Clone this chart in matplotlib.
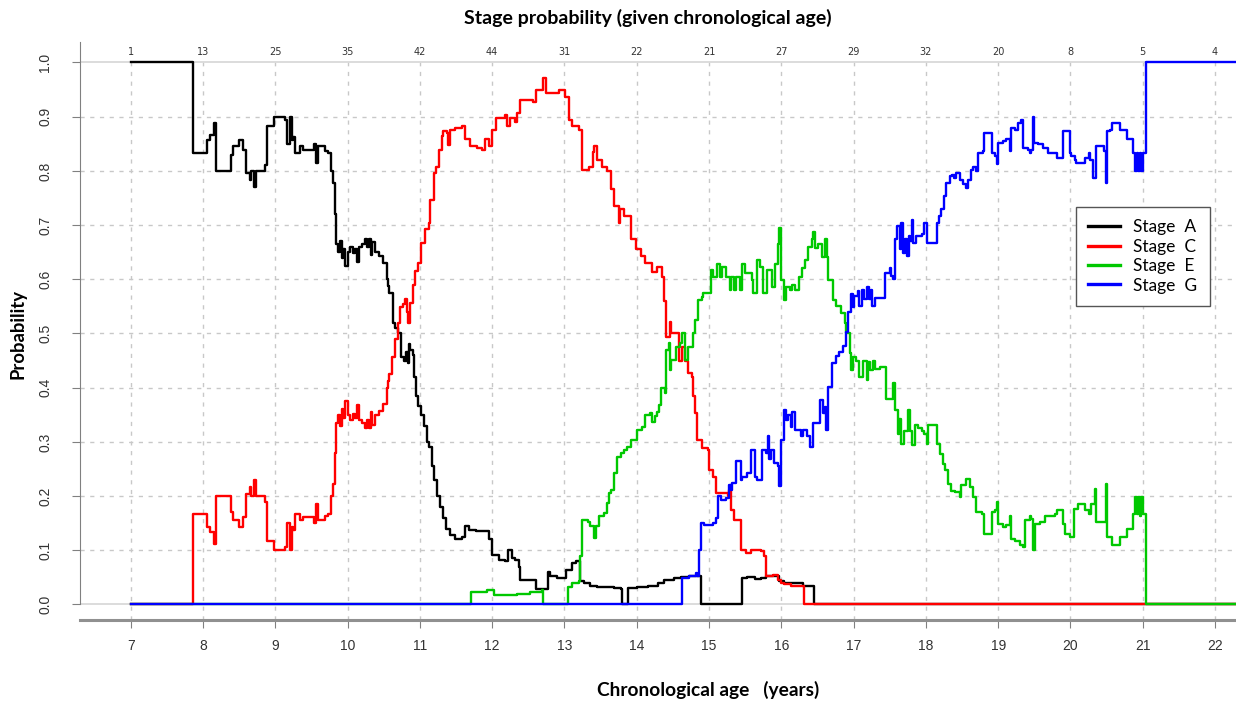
import matplotlib
matplotlib.use('Agg')
import matplotlib.pyplot as plt
from matplotlib.lines import Line2D

# stage probability step curves
a_x = [7.00, 7.866, 8.06, 8.10, 8.15, 8.18, 8.39, 8.42, 8.50, 8.56, 8.60, 8.65, 8.67, 8.70, 8.74,
       8.86, 8.88, 8.98, 9.13, 9.16, 9.20, 9.23, 9.25, 9.28, 9.34, 9.39, 9.53, 9.57, 9.59, 9.69,
       9.73, 9.77, 9.80, 9.82, 9.84, 9.87, 9.89, 9.92, 9.94, 9.97, 10.00, 10.04, 10.07, 10.10,
       10.13, 10.16, 10.20, 10.24, 10.27, 10.29, 10.32, 10.34, 10.38, 10.44, 10.49, 10.54, 10.56,
       10.58, 10.63, 10.66, 10.70, 10.74, 10.78, 10.81, 10.83, 10.85, 10.87, 10.90, 10.92, 10.94,
       10.98, 11.01, 11.06, 11.10, 11.13, 11.17, 11.20, 11.24, 11.28, 11.32, 11.36, 11.42, 11.48,
       11.58, 11.63, 11.68, 11.77, 11.95, 12.00, 12.09, 12.18, 12.22, 12.27, 12.32, 12.37, 12.39,
       12.60, 12.77, 12.80, 12.90, 13.02, 13.11, 13.16, 13.21, 13.27, 13.36, 13.45, 13.69, 13.78,
       13.79, 13.88, 14.01, 14.15, 14.29, 14.38, 14.52, 14.61, 14.72, 14.82, 14.89, 15.45, 15.53,
       15.63, 15.72, 15.79, 15.86, 15.97, 16.04, 16.30, 16.45, 22.40]
a_y = [1.000, 0.833, 0.857, 0.867, 0.888, 0.800, 0.830, 0.845, 0.857, 0.839, 0.796, 0.783, 0.800,
       0.771, 0.800, 0.810, 0.882, 0.900, 0.894, 0.850, 0.900, 0.857, 0.863, 0.833, 0.845, 0.839,
       0.850, 0.814, 0.845, 0.836, 0.833, 0.800, 0.777, 0.720, 0.666, 0.650, 0.670, 0.640, 0.655,
       0.625, 0.650, 0.660, 0.648, 0.655, 0.632, 0.660, 0.665, 0.675, 0.660, 0.675, 0.645, 0.668,
       0.650, 0.643, 0.630, 0.600, 0.588, 0.575, 0.520, 0.510, 0.500, 0.457, 0.450, 0.465, 0.445,
       0.480, 0.470, 0.460, 0.420, 0.384, 0.366, 0.350, 0.330, 0.300, 0.290, 0.255, 0.230, 0.200,
       0.180, 0.160, 0.140, 0.129, 0.120, 0.125, 0.144, 0.138, 0.135, 0.120, 0.092, 0.083, 0.080,
       0.101, 0.086, 0.083, 0.070, 0.046, 0.028, 0.060, 0.052, 0.049, 0.064, 0.077, 0.080, 0.043,
       0.040, 0.035, 0.033, 0.031, 0.029, 0.000, 0.031, 0.033, 0.035, 0.040, 0.046, 0.049, 0.051,
       0.053, 0.052, 0.000, 0.049, 0.051, 0.047, 0.048, 0.052, 0.053, 0.043, 0.040, 0.035, 0.000,
       0.000]

c_x = [7.00, 7.866, 8.06, 8.10, 8.15, 8.18, 8.39, 8.42, 8.50, 8.56, 8.60, 8.65, 8.67, 8.70, 8.74,
       8.86, 8.88, 8.98, 9.13, 9.16, 9.20, 9.23, 9.25, 9.28, 9.34, 9.39, 9.53, 9.57, 9.59, 9.69,
       9.73, 9.77, 9.80, 9.82, 9.84, 9.87, 9.89, 9.92, 9.94, 9.97, 10.00, 10.04, 10.07, 10.10,
       10.13, 10.16, 10.20, 10.24, 10.27, 10.29, 10.32, 10.34, 10.38, 10.44, 10.49, 10.54, 10.56,
       10.58, 10.62, 10.65, 10.70, 10.72, 10.77, 10.79, 10.82, 10.84, 10.86, 10.90, 10.93, 10.98,
       11.02, 11.07, 11.12, 11.14, 11.19, 11.23, 11.27, 11.30, 11.32, 11.37, 11.39, 11.42, 11.49,
       11.58, 11.63, 11.69, 11.79, 11.86, 11.90, 11.95, 12.00, 12.06, 12.18, 12.21, 12.25, 12.32,
       12.34, 12.39, 12.57, 12.60, 12.71, 12.75, 12.92, 13.01, 13.06, 13.11, 13.20, 13.25, 13.34,
       13.39, 13.41, 13.45, 13.52, 13.59, 13.64, 13.69, 13.75, 13.77, 13.82, 13.92, 13.99, 14.06,
       14.12, 14.21, 14.28, 14.35, 14.38, 14.41, 14.46, 14.48, 14.58, 14.63, 14.67, 14.71, 14.76,
       14.78, 14.81, 14.84, 14.91, 14.98, 15.00, 15.05, 15.09, 15.26, 15.28, 15.30, 15.35, 15.44,
       15.51, 15.58, 15.72, 15.76, 15.79, 15.88, 15.95, 16.00, 16.04, 16.13, 16.23, 16.32, 22.40]
c_y = [0.000, 0.167, 0.143, 0.133, 0.112, 0.200, 0.170, 0.155, 0.143, 0.161, 0.204, 0.217, 0.200,
       0.229, 0.200, 0.190, 0.118, 0.100, 0.106, 0.150, 0.100, 0.143, 0.137, 0.167, 0.155, 0.161,
       0.150, 0.186, 0.155, 0.164, 0.167, 0.200, 0.223, 0.280, 0.334, 0.350, 0.330, 0.360, 0.345,
       0.375, 0.350, 0.340, 0.352, 0.345, 0.368, 0.340, 0.335, 0.325, 0.340, 0.325, 0.355, 0.332,
       0.350, 0.357, 0.370, 0.400, 0.412, 0.425, 0.457, 0.490, 0.520, 0.548, 0.555, 0.563, 0.540,
       0.520, 0.557, 0.590, 0.615, 0.630, 0.667, 0.692, 0.704, 0.747, 0.796, 0.808, 0.839, 0.864,
       0.873, 0.870, 0.848, 0.876, 0.879, 0.882, 0.858, 0.845, 0.842, 0.839, 0.858, 0.845, 0.876,
       0.898, 0.904, 0.882, 0.898, 0.891, 0.907, 0.931, 0.928, 0.950, 0.971, 0.944, 0.950, 0.937,
       0.894, 0.882, 0.876, 0.802, 0.808, 0.835, 0.845, 0.820, 0.808, 0.800, 0.766, 0.735, 0.704,
       0.729, 0.717, 0.674, 0.655, 0.643, 0.630, 0.614, 0.623, 0.605, 0.560, 0.494, 0.522, 0.500,
       0.450, 0.476, 0.450, 0.427, 0.420, 0.384, 0.353, 0.304, 0.288, 0.285, 0.248, 0.236, 0.206,
       0.200, 0.212, 0.175, 0.156, 0.101, 0.095, 0.101, 0.098, 0.089, 0.052, 0.055, 0.046, 0.040,
       0.037, 0.035, 0.034, 0.000, 0.000]

e_x = [7.00, 11.71, 11.93, 12.02, 12.35, 12.53, 12.69, 12.71, 13.05, 13.11, 13.20, 13.21, 13.25,
       13.32, 13.36, 13.41, 13.43, 13.48, 13.55, 13.59, 13.62, 13.65, 13.69, 13.73, 13.78, 13.82,
       13.87, 13.92, 14.01, 14.08, 14.12, 14.19, 14.21, 14.25, 14.28, 14.31, 14.33, 14.39, 14.41,
       14.44, 14.46, 14.48, 14.55, 14.60, 14.63, 14.67, 14.71, 14.78, 14.81, 14.85, 14.90, 14.92,
       15.03, 15.06, 15.11, 15.15, 15.18, 15.24, 15.29, 15.31, 15.34, 15.38, 15.43, 15.45, 15.50,
       15.59, 15.61, 15.66, 15.70, 15.75, 15.80, 15.87, 15.91, 15.95, 15.97, 16.00, 16.04, 16.07,
       16.12, 16.15, 16.19, 16.24, 16.28, 16.33, 16.37, 16.42, 16.44, 16.47, 16.51, 16.56, 16.60,
       16.63, 16.65, 16.72, 16.76, 16.83, 16.88, 16.90, 16.95, 16.97, 16.99, 17.04, 17.08, 17.13,
       17.18, 17.20, 17.23, 17.27, 17.29, 17.36, 17.45, 17.54, 17.57, 17.61, 17.63, 17.66, 17.70,
       17.75, 17.78, 17.81, 17.85, 17.89, 17.94, 17.98, 18.01, 18.03, 18.15, 18.19, 18.24, 18.27,
       18.30, 18.35, 18.40, 18.47, 18.49, 18.56, 18.61, 18.65, 18.70, 18.77, 18.81, 18.91, 18.95,
       18.99, 19.00, 19.07, 19.11, 19.16, 19.18, 19.23, 19.30, 19.35, 19.37, 19.44, 19.46, 19.48,
       19.51, 19.58, 19.65, 19.78, 19.81, 19.90, 19.92, 19.99, 20.05, 20.11, 20.20, 20.25, 20.29,
       20.34, 20.36, 20.49, 20.50, 20.57, 20.68, 20.78, 20.87, 20.89, 20.92, 20.94, 20.96, 20.98,
       21.00, 21.05, 22.40]
e_y = [0.000, 0.023, 0.026, 0.018, 0.020, 0.023, 0.026, 0.000, 0.033, 0.039, 0.043, 0.089, 0.156,
       0.153, 0.144, 0.123, 0.144, 0.163, 0.169, 0.187, 0.206, 0.212, 0.242, 0.273, 0.279, 0.285,
       0.291, 0.304, 0.322, 0.328, 0.350, 0.353, 0.337, 0.347, 0.356, 0.368, 0.399, 0.390, 0.470,
       0.482, 0.433, 0.452, 0.476, 0.482, 0.500, 0.452, 0.476, 0.500, 0.525, 0.562, 0.568, 0.574,
       0.617, 0.605, 0.629, 0.605, 0.623, 0.605, 0.580, 0.605, 0.580, 0.605, 0.580, 0.629, 0.611,
       0.599, 0.574, 0.636, 0.623, 0.574, 0.617, 0.586, 0.629, 0.666, 0.694, 0.599, 0.562, 0.586,
       0.580, 0.590, 0.580, 0.605, 0.620, 0.636, 0.660, 0.675, 0.688, 0.657, 0.666, 0.642, 0.675,
       0.642, 0.599, 0.562, 0.550, 0.537, 0.519, 0.500, 0.464, 0.433, 0.457, 0.450, 0.420, 0.450,
       0.414, 0.448, 0.432, 0.450, 0.435, 0.438, 0.380, 0.408, 0.358, 0.315, 0.343, 0.297, 0.321,
       0.358, 0.321, 0.294, 0.331, 0.325, 0.321, 0.315, 0.297, 0.331, 0.297, 0.278, 0.260, 0.248,
       0.223, 0.210, 0.208, 0.198, 0.220, 0.232, 0.217, 0.198, 0.171, 0.167, 0.130, 0.171, 0.174,
       0.189, 0.149, 0.143, 0.146, 0.164, 0.121, 0.118, 0.109, 0.106, 0.155, 0.164, 0.158, 0.100,
       0.149, 0.152, 0.164, 0.167, 0.174, 0.149, 0.130, 0.124, 0.177, 0.186, 0.174, 0.167, 0.186,
       0.214, 0.152, 0.222, 0.124, 0.109, 0.124, 0.140, 0.167, 0.198, 0.167, 0.198, 0.164, 0.198,
       0.167, 0.000, 0.000]

g_x = [7.00, 14.63, 14.72, 14.82, 14.84, 14.86, 14.89, 14.93, 15.05, 15.09, 15.12, 15.16, 15.23,
       15.28, 15.30, 15.32, 15.37, 15.44, 15.46, 15.53, 15.58, 15.63, 15.67, 15.74, 15.79, 15.81,
       15.83, 15.86, 15.90, 15.95, 15.97, 16.00, 16.04, 16.07, 16.09, 16.13, 16.15, 16.19, 16.27,
       16.30, 16.36, 16.40, 16.44, 16.53, 16.58, 16.60, 16.62, 16.65, 16.70, 16.76, 16.80, 16.85,
       16.90, 16.92, 16.97, 16.99, 17.01, 17.06, 17.08, 17.11, 17.15, 17.19, 17.21, 17.24, 17.26,
       17.29, 17.43, 17.50, 17.52, 17.54, 17.57, 17.60, 17.64, 17.66, 17.68, 17.71, 17.74, 17.76,
       17.78, 17.81, 17.82, 17.87, 17.94, 17.98, 18.02, 18.15, 18.18, 18.21, 18.25, 18.28, 18.33,
       18.36, 18.39, 18.42, 18.47, 18.51, 18.55, 18.58, 18.63, 18.65, 18.70, 18.72, 18.79, 18.81,
       18.91, 18.95, 18.98, 19.00, 19.07, 19.11, 19.16, 19.18, 19.23, 19.28, 19.32, 19.35, 19.41,
       19.44, 19.46, 19.48, 19.49, 19.55, 19.62, 19.69, 19.81, 19.90, 19.99, 20.01, 20.06, 20.08,
       20.20, 20.25, 20.27, 20.31, 20.36, 20.47, 20.49, 20.50, 20.55, 20.57, 20.68, 20.78, 20.87,
       20.89, 20.92, 20.94, 20.96, 20.98, 21.00, 21.05, 22.40]
g_y = [0.000, 0.049, 0.052, 0.058, 0.052, 0.101, 0.150, 0.147, 0.150, 0.160, 0.200, 0.193, 0.196,
       0.221, 0.212, 0.224, 0.264, 0.230, 0.236, 0.242, 0.285, 0.236, 0.230, 0.285, 0.279, 0.310,
       0.268, 0.285, 0.261, 0.255, 0.218, 0.304, 0.359, 0.341, 0.350, 0.328, 0.356, 0.322, 0.310,
       0.322, 0.310, 0.290, 0.335, 0.378, 0.353, 0.365, 0.322, 0.402, 0.445, 0.458, 0.465, 0.477,
       0.502, 0.539, 0.572, 0.548, 0.569, 0.579, 0.551, 0.581, 0.563, 0.585, 0.563, 0.581, 0.551,
       0.566, 0.612, 0.621, 0.606, 0.600, 0.674, 0.698, 0.655, 0.704, 0.649, 0.674, 0.643, 0.680,
       0.670, 0.710, 0.667, 0.680, 0.683, 0.704, 0.667, 0.704, 0.717, 0.729, 0.753, 0.778, 0.790,
       0.793, 0.787, 0.796, 0.784, 0.775, 0.769, 0.784, 0.802, 0.808, 0.800, 0.833, 0.836, 0.870,
       0.833, 0.827, 0.812, 0.852, 0.855, 0.858, 0.836, 0.879, 0.876, 0.888, 0.894, 0.842, 0.839,
       0.833, 0.839, 0.900, 0.852, 0.849, 0.842, 0.833, 0.824, 0.873, 0.833, 0.827, 0.821, 0.815,
       0.824, 0.833, 0.821, 0.787, 0.845, 0.836, 0.778, 0.873, 0.876, 0.888, 0.876, 0.858, 0.833,
       0.800, 0.833, 0.800, 0.833, 0.800, 0.833, 1.000, 1.000]

years = list(range(7, 23))
counts = [1, 13, 25, 35, 42, 44, 31, 22, 21, 27, 29, 32, 20, 8, 5, 4]
stage_names = ['Stage  A', 'Stage  C', 'Stage  E', 'Stage  G']
stage_colors = ['#000000', '#ff0000', '#00c800', '#0000ff']

W, H = 1236, 704
fig = plt.figure(figsize=(W / 100, H / 100), dpi=100)
ax = fig.add_axes([80 / W, 1 - 620 / H, (W - 80) / W, (620 - 42) / H])
ax.set_xlim(6.299, 22.29)
ax.set_ylim(-0.0286, 1.0378)

grid_kw = dict(color='#c8c8c8', lw=1.0, ls=(0, (3, 4)), zorder=0)
for yv in [i / 10 for i in range(1, 10)]:
    ax.axhline(yv, **grid_kw)
for xv in years:
    ax.plot([xv, xv], [-0.0286, 1.0], **grid_kw)
ax.axhline(0.0, color='#d9d9d9', lw=1.3, zorder=0)
ax.axhline(1.0, color='#d9d9d9', lw=1.3, zorder=0)

for xs, ys, col in zip([a_x, c_x, e_x, g_x], [a_y, c_y, e_y, g_y], stage_colors):
    ax.step(xs, ys, where='post', color=col, lw=1.7, zorder=3)

for xv, n in zip(years, counts):
    ax.text(xv, 1.019, str(n), ha='center', va='center', fontsize=7,
            family='Liberation Sans Narrow', color='#333333')

for side in ['top', 'right']:
    ax.spines[side].set_visible(False)
ax.spines['left'].set_bounds(0, 1.0378)
ax.spines['left'].set_color('#808080')
ax.spines['bottom'].set_color('#909090')
ax.spines['bottom'].set_linewidth(2.2)

ax.set_xticks(years)
ax.set_xticklabels([str(y) for y in years], fontsize=10, family='Liberation Sans', color='#333333')
ax.set_yticks([i / 10 for i in range(11)])
ax.set_yticklabels([f'{i / 10:.1f}' for i in range(11)], fontsize=10, family='Liberation Sans',
                   color='#333333', rotation=90, va='center')
ax.tick_params(axis='x', length=6, color='#808080', pad=8)
ax.tick_params(axis='y', length=6, color='#808080', pad=14)

fig.text(648 / W, 1 - 18 / H, 'Stage probability (given chronological age)', ha='center',
         va='center', fontsize=14, fontweight='bold', family='Lato')
fig.text(708 / W, 1 - 690 / H, 'Chronological age   (years)', ha='center', va='center',
         fontsize=13.8, fontweight='bold', family='Lato')
fig.text(18 / W, 1 - 334 / H, 'Probability', ha='center', va='center', rotation=90,
         fontsize=13.3, fontweight='bold', family='Lato')

handles = [Line2D([0], [0], color=c, lw=2.4) for c in stage_colors]
leg = ax.legend(handles, stage_names, loc='upper left', bbox_to_anchor=(1076 / W, 1 - 207 / H),
                bbox_transform=fig.transFigure, borderaxespad=0, fancybox=False,
                edgecolor='#555555', framealpha=1, handlelength=1.85, handletextpad=0.75,
                labelspacing=0.2, prop={'family': 'Lato', 'size': 12.5}, borderpad=0.7)
leg.get_frame().set_linewidth(1.0)

fig.savefig('out.png', dpi=100)
